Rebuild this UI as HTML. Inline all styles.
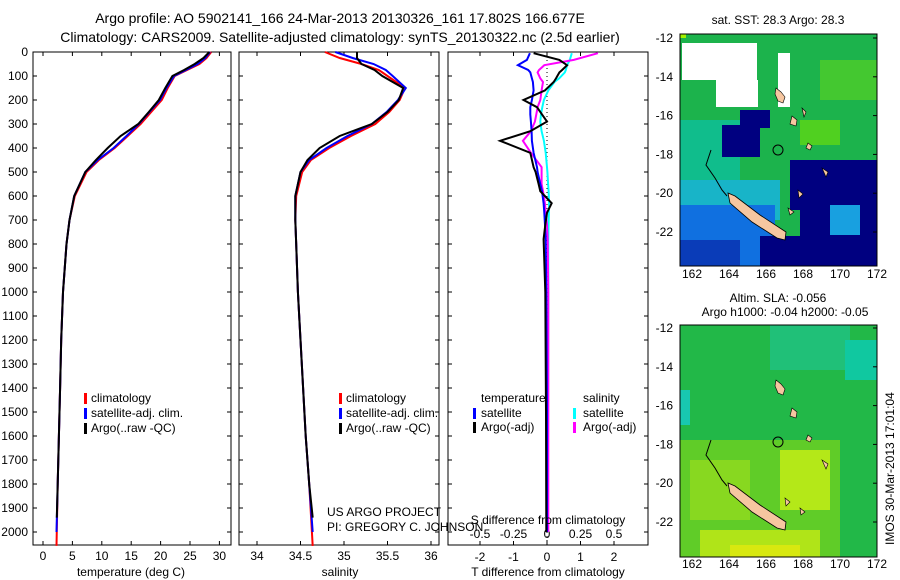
<!DOCTYPE html>
<html><head><meta charset="utf-8"><style>
body{margin:0;background:#fff;}
svg{display:block;font-family:"Liberation Sans",sans-serif;}
text{font-size:12px;fill:#000;}
</style></head><body>
<svg id="fig" width="900" height="580" xmlns="http://www.w3.org/2000/svg">
<rect width="900" height="580" fill="#fff"/>
<text x="340" y="23" text-anchor="middle" style="font-size:14px">Argo profile: AO 5902141_166 24-Mar-2013 20130326_161 17.802S 166.677E</text>
<text x="340" y="42" text-anchor="middle" style="font-size:14px">Climatology: CARS2009. Satellite-adjusted climatology: synTS_20130322.nc (2.5d earlier)</text>

<g id="maps">
 <g>
  <text x="778" y="24" text-anchor="middle">sat. SST: 28.3 Argo: 28.3</text>
  <rect x="680" y="34" width="197" height="232" fill="#1cb34c"/>
  <rect x="680" y="120" width="60" height="100" fill="#10bd8c"/>
  <rect x="680" y="180" width="100" height="40" fill="#18b4c8"/>
  <rect x="680" y="205" width="95" height="61" fill="#1070e0"/>
  <rect x="680" y="240" width="60" height="26" fill="#0a3cb8"/>
  <rect x="722" y="125" width="38" height="32" fill="#000080"/>
  <rect x="740" y="110" width="30" height="18" fill="#000080"/>
  <rect x="722" y="88" width="30" height="14" fill="#000080"/>
  <rect x="790" y="160" width="87" height="50" fill="#000080"/>
  <rect x="800" y="200" width="77" height="66" fill="#000080"/>
  <rect x="760" y="236" width="50" height="30" fill="#000080"/>
  <rect x="830" y="205" width="30" height="30" fill="#18a0e0"/>
  <rect x="680" y="34" width="6" height="4" fill="#a0f000"/>
  <rect x="682" y="43" width="75" height="37" fill="#fff"/>
  <rect x="716" y="80" width="42" height="27" fill="#fff"/>
  <rect x="778" y="53" width="12" height="54" fill="#fff"/>
  <rect x="820" y="60" width="57" height="40" fill="#44c830"/>
  <rect x="800" y="120" width="40" height="25" fill="#50d020"/>
  <polygon points="728,193 735,196 760,215 786,232 785,240 777,238 752,222 730,203" fill="#f6c6a0" stroke="#000" stroke-width="0.8"/>
  <polyline points="711,150 706,165 715,178 722,190 727,196" fill="none" stroke="#000" stroke-width="1"/>
  <circle cx="778" cy="150" r="5" fill="none" stroke="#000" stroke-width="1"/>
  <polygon points="776,88 781,92 785,97 783,103 778,101 775,94" fill="#f6c6a0" stroke="#000" stroke-width="0.6"/>
  <polygon points="792,116 797,120 796,126 790,124" fill="#f6c6a0" stroke="#000" stroke-width="0.6"/>
  <polygon points="802,108 806,112 804,117" fill="#f6c6a0" stroke="#000" stroke-width="0.6"/>
  <polygon points="808,143 812,146 810,150 806,148" fill="#f6c6a0" stroke="#000" stroke-width="0.6"/>
  <polygon points="822,168 828,172 826,177" fill="#f6c6a0" stroke="#000" stroke-width="0.6"/>
  <polygon points="798,190 803,194 799,198" fill="#f6c6a0" stroke="#000" stroke-width="0.6"/>
  <polygon points="788,208 794,212 790,215" fill="#f6c6a0" stroke="#000" stroke-width="0.6"/>
  <rect x="680" y="34" width="197" height="232" fill="none" stroke="#000" stroke-width="1"/>
 </g>
 <g>
  <text x="778" y="302" text-anchor="middle">Altim. SLA: -0.056</text>
  <text x="785" y="316" text-anchor="middle">Argo h1000: -0.04 h2000: -0.05</text>
  <rect x="680" y="325" width="197" height="232" fill="#22b848"/>
  <rect x="770" y="325" width="80" height="45" fill="#20c078"/>
  <rect x="845" y="340" width="32" height="40" fill="#10c8a0"/>
  <rect x="680" y="390" width="10" height="35" fill="#18c8b0"/>
  <rect x="680" y="440" width="160" height="117" fill="#60cc28"/>
  <rect x="690" y="460" width="60" height="60" fill="#88d820"/>
  <rect x="780" y="450" width="50" height="60" fill="#b4e818"/>
  <rect x="700" y="530" width="120" height="27" fill="#b0e418"/>
  <rect x="730" y="545" width="70" height="12" fill="#d8e810"/>
  <polygon points="728,483 735,486 760,505 786,522 785,530 777,528 752,512 730,493" fill="#f6c6a0" stroke="#000" stroke-width="0.8"/>
  <polyline points="711,440 706,455 715,468 722,480 727,486" fill="none" stroke="#000" stroke-width="1"/>
  <circle cx="778" cy="442" r="5" fill="none" stroke="#000" stroke-width="1"/>
  <polygon points="776,380 781,384 785,389 783,395 778,393 775,386" fill="#f6c6a0" stroke="#000" stroke-width="0.6"/>
  <polygon points="792,408 797,412 796,418 790,416" fill="#f6c6a0" stroke="#000" stroke-width="0.6"/>
  <polygon points="808,435 812,438 810,442 806,440" fill="#f6c6a0" stroke="#000" stroke-width="0.6"/>
  <polygon points="822,460 828,464 826,469" fill="#f6c6a0" stroke="#000" stroke-width="0.6"/>
  <polygon points="785,498 790,502 786,506" fill="#f6c6a0" stroke="#000" stroke-width="0.6"/>
  <polygon points="800,508 805,512 801,515" fill="#f6c6a0" stroke="#000" stroke-width="0.6"/>
  <rect x="680" y="325" width="197" height="232" fill="none" stroke="#000" stroke-width="1"/>
 </g>
 <text transform="translate(894,545) rotate(-90)">IMOS 30-Mar-2013 17:01:04</text>
</g>
<g id="plots"></g>
</svg>
<script>
// profile data (depth in m)
const depths = [0,25,50,75,100,150,200,250,300,350,400,450,500,600,700,800,1000,1200,1400,1600,1800,2000];
const tempClim = [28.6,27.8,26.6,24.5,22.4,21.2,20.2,18.4,16.6,14.4,12.2,9.5,7.4,5.4,4.5,4.0,3.4,3.1,2.9,2.7,2.5,2.3];
const tempSat = [28.4,27.6,26.3,24.3,22.3,21.0,19.9,18.1,16.3,14.2,12.0,9.3,7.2,5.3,4.5,4.0,3.4,3.1,2.9,2.7,2.5,2.3];
const tempArgo = [28.3,27.3,25.8,24.0,22.0,20.8,19.7,18.0,16.2,13.2,11.0,9.0,7.2,5.3,4.5,4.0,3.4,3.1,2.9,2.7,2.5,2.3];
const salClim = [34.78,34.95,35.2,35.4,35.5,35.7,35.64,35.52,35.36,35.08,34.83,34.62,34.52,34.45,34.44,34.45,34.47,34.5,34.53,34.56,34.6,34.64];
const salSat = [34.9,35.1,35.34,35.48,35.56,35.71,35.62,35.49,35.32,35.04,34.8,34.6,34.5,34.44,34.44,34.45,34.47,34.5,34.53,34.56,34.6,34.64];
const salArgo = [35.15,35.15,35.2,35.35,35.44,35.68,35.63,35.5,35.32,34.95,34.72,34.58,34.5,34.44,34.44,34.45,34.47,34.5,34.53,34.56,34.6,34.64];
const diffDepths = [5,33,55,75,85,110,125,160,200,230,260,290,330,370,420,480,500,550,580,630,670,720,780,1000,1500,2000];
const tDiffSat = [-0.51,-0.6,-0.87,-0.56,-0.5,-0.45,-0.42,-0.4,-0.45,-0.5,-0.5,-0.48,-0.46,-0.45,-0.4,-0.3,-0.28,-0.2,-0.15,-0.1,-0.08,-0.06,-0.04,-0.02,0,0];
const tDiffArgo = [-0.4,0.37,0.6,0.45,0.37,0.27,0.2,-0.06,-0.7,-0.3,-0.15,0,-0.5,-1.4,-0.5,-0.4,-0.34,-0.25,-0.2,0.14,0,-0.05,-0.1,-0.05,-0.03,-0.02];
const sDiffSat = [0.185,0.17,0.15,0.14,0.133,0.09,0.055,0.01,-0.023,-0.035,-0.045,-0.05,-0.04,-0.023,-0.01,0,0.003,0.008,0.012,0.016,0.014,0.012,0.01,0.01,0.008,0.005];
const sDiffArgo = [0.38,0.2,-0.02,-0.06,-0.07,-0.05,-0.03,-0.04,-0.05,-0.07,-0.08,-0.09,-0.12,-0.18,-0.12,-0.04,-0.04,-0.04,-0.03,-0.016,-0.01,0,0.005,0.01,0.01,0.01];
const depthTicks = [0,100,200,300,400,500,600,700,800,900,1000,1100,1200,1300,1400,1500,1600,1700,1800,1900,2000];
const tempTicks = [0,5,10,15,20,25,30];
const salTicks = [34,34.5,35,35.5,36];
const salTickLabels = ["34","34.5","35","35.5","36"];
const tDiffTicks = [-2,-1,0,1,2];
const sDiffTicks = [-0.5,-0.25,0,0.25,0.5];
const sDiffTickLabels = ["-0.5","-0.25","0","0.25","0.5"];
const mapLatTicks = [12,14,16,18,20,22];
const mapLonTicks = [162,164,166,168,170,172];

const NS='http://www.w3.org/2000/svg';
const root=document.getElementById('plots');
function el(tag,attrs,parent){const e=document.createElementNS(NS,tag);for(const k in attrs)e.setAttribute(k,attrs[k]);(parent||root).appendChild(e);return e;}
const yD=d=>52+d*0.24;
const TOP=52, BOT=545;
const xT=v=>43+v*5.88;
const xS=v=>257+(v-34)*87;
const xTD=v=>547+v*33.5;
const xSD=v=>547+v*134;

function box(x0,x1,name){
 const r=el('rect',{x:x0,y:TOP,width:x1-x0,height:BOT-TOP,fill:'none',stroke:'#000','stroke-width':1});
 
 
 depthTicks.forEach(d=>{el('line',{x1:x0,x2:x0+4,y1:yD(d),y2:yD(d),stroke:'#000'});el('line',{x1:x1,x2:x1-4,y1:yD(d),y2:yD(d),stroke:'#000'});});
}
function xticks(vals,fx,labels,y){
 vals.forEach((v,i)=>{const x=fx(v);el('line',{x1:x,x2:x,y1:TOP,y2:TOP+4,stroke:'#000'});el('line',{x1:x,x2:x,y1:BOT,y2:BOT-4,stroke:'#000'});
  const t=el('text',{x:x,y:y,'text-anchor':'middle'});t.textContent=labels[i];
  
  });
}
function line(xs,ds,fx,color,name,dash){
 const pts=xs.map((v,i)=>fx(v).toFixed(1)+','+yD(ds[i]).toFixed(1)).join(' ');
 const p=el('polyline',{points:pts,fill:'none',stroke:color,'stroke-width':2});
 if(dash)p.setAttribute('stroke-dasharray',dash);
 
 
}
function lab(x,y,s,name,anchor){const t=el('text',{x:x,y:y,'text-anchor':anchor||'start'});t.textContent=s;
 
 return t;}
function legBar(x,y,c){const r=el('rect',{x:x,y:y-9,width:3,height:11,fill:c});
 
 }

depthTicks.forEach(d=>{lab(28,yD(d)+4,String(d),'y-tick-label','end');});

box(33,231,'temperature-axes');
xticks(tempTicks,xT,tempTicks.map(String),560);
lab(131,576,'temperature (deg C)','x-axis-title-temperature','middle');
line(tempClim,depths.map((d,i)=>i==depths.length-1?2058:d),xT,'#f00','temperature-climatology');
line(tempSat,depths,xT,'#00f','temperature-satellite');
line(tempArgo.slice(0,-1).concat([2.35]),depths.slice(0,-1).concat([1940]),xT,'#000','temperature-argo');
legBar(84,402,'#f00');lab(91,402,'climatology','legend-climatology');
legBar(84,417,'#00f');lab(91,417,'satellite-adj. clim.','legend-satellite');
legBar(84,432,'#000');lab(91,432,'Argo(..raw -QC)','legend-argo');

box(239,439,'salinity-axes');
xticks(salTicks,xS,salTickLabels,560);
lab(340,576,'salinity','x-axis-title-salinity','middle');
line(salClim,depths.map((d,i)=>i==depths.length-1?2058:d),xS,'#f00','salinity-climatology');
line(salSat,depths,xS,'#00f','salinity-satellite');
line(salArgo.slice(0,-1).concat([34.64]),depths.slice(0,-1).concat([1940]),xS,'#000','salinity-argo');
legBar(339,402,'#f00');lab(346,402,'climatology','legend-climatology');
legBar(339,417,'#00f');lab(346,417,'satellite-adj. clim.','legend-satellite');
legBar(339,432,'#000');lab(346,432,'Argo(..raw -QC)','legend-argo');
lab(327,516,'US ARGO PROJECT','credit-project');
lab(327,531,'PI: GREGORY C. JOHNSON','credit-pi');

box(448,648,'difference-axes');
xticks(tDiffTicks,xTD,tDiffTicks.map(String),561);
sDiffTicks.forEach((v,i)=>{lab(xSD(v),538,sDiffTickLabels[i],'s-diff-tick-label','middle');});
const zl=el('line',{x1:547,x2:547,y1:TOP,y2:BOT,stroke:'#000','stroke-dasharray':'1,3'});


line(sDiffSat,diffDepths,xSD,'#0ff','s-diff-satellite');
line(sDiffArgo,diffDepths,xSD,'#f0f','s-diff-argo');
line(tDiffSat,diffDepths,xTD,'#00f','t-diff-satellite');
line(tDiffArgo,diffDepths,xTD,'#000','t-diff-argo');
lab(548,524,'S difference from climatology','s-diff-axis-title','middle');
lab(548,576,'T difference from climatology','t-diff-axis-title','middle');
lab(481,402,'temperature','legend-header-temperature');
lab(583,402,'salinity','legend-header-salinity');
legBar(473,417,'#00f');lab(481,417,'satellite','legend-t-satellite');
legBar(473,431,'#000');lab(481,431,'Argo(-adj)','legend-t-argo');
legBar(573,417,'#0ff');lab(583,417,'satellite','legend-s-satellite');
legBar(573,431,'#f0f');lab(583,431,'Argo(-adj)','legend-s-argo');

[[38,278],[328,568]].forEach(([y0,ylab])=>{
 mapLatTicks.forEach(s=>{const y=y0+(s-12)*19.4;
  lab(673,y+4,'-'+s,'map-lat-label','end');
  el('line',{x1:877,x2:873,y1:y,y2:y,stroke:'#000'});});
 mapLonTicks.forEach(l=>{const x=692+(l-162)*18.5;
  lab(x,ylab,String(l),'map-lon-label','middle');});
});
</script>
</body></html>
